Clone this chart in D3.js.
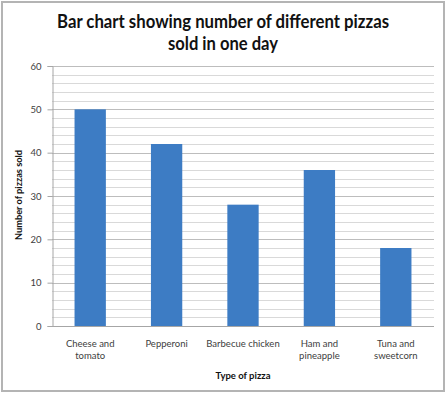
<!DOCTYPE html>
<html>
<head>
<meta charset="utf-8">
<script src="https://cdn.jsdelivr.net/npm/d3@7"></script>
<style>
  body { margin: 0; background: #fff; }
  text { font-family: Lato, "Open Sans", sans-serif; }
</style>
</head>
<body>
<div id="container"></div>
<script>
// DATA
const pizzas = ["Cheese and tomato", "Pepperoni", "Barbecue chicken", "Ham and pineapple", "Tuna and sweetcorn"];
const labelLines = [["Cheese and", "tomato"], ["Pepperoni"], ["Barbecue chicken"], ["Ham and", "pineapple"], ["Tuna and", "sweetcorn"]];
const sold = [50, 42, 28, 36, 18];
const yTicks = [0, 10, 20, 30, 40, 50, 60];

const width = 446, height = 393;
const plotLeft = 52, plotRight = 434, plotTop = 66, plotBottom = 326;

const svg = d3.select("#container").append("svg")
  .attr("width", width).attr("height", height);

// outer frame
svg.append("rect")
  .attr("x", 2).attr("y", 2).attr("width", width - 4).attr("height", height - 4)
  .attr("fill", "#fff").attr("stroke", "#b4b4b4").attr("stroke-width", 2);

// SCALES
const x = d3.scaleBand().domain(pizzas).range([plotLeft, plotRight]);
const y = d3.scaleLinear().domain([0, 60]).range([plotBottom, plotTop]);

// gridlines every 2
svg.append("g").selectAll("line")
  .data(d3.range(2, 61, 2))
  .join("line")
  .attr("x1", plotLeft).attr("x2", plotRight)
  .attr("y1", d => Math.round(y(d)) + 0.5).attr("y2", d => Math.round(y(d)) + 0.5)
  .attr("stroke", d => d % 10 === 0 ? "#bdbdbd" : "#d9d9d9")
  .attr("stroke-width", 1);

// y axis
const yAxis = svg.append("g")
  .attr("transform", `translate(${plotLeft + 0.5},0)`)
  .call(d3.axisLeft(y).tickValues(yTicks).tickSize(5).tickPadding(6));
yAxis.select(".domain").attr("stroke", "#a6a6a6");
yAxis.selectAll(".tick line").attr("stroke", "#a6a6a6");
yAxis.selectAll(".tick text").attr("fill", "#404040").attr("font-size", 9.5).attr("font-family", "Lato, sans-serif");

// x axis baseline
svg.append("line")
  .attr("x1", plotLeft).attr("x2", plotRight)
  .attr("y1", plotBottom + 0.5).attr("y2", plotBottom + 0.5)
  .attr("stroke", "#a6a6a6");

// BARS
const barW = x.bandwidth() * 0.41;
svg.append("g").selectAll("rect")
  .data(pizzas)
  .join("rect")
  .attr("x", d => x(d) + (x.bandwidth() - barW) / 2)
  .attr("width", barW)
  .attr("y", (d, i) => y(sold[i]))
  .attr("height", (d, i) => y(0) - y(sold[i]))
  .attr("fill", "#3d7cc4");

// x labels
const xl = svg.append("g").selectAll("text")
  .data(pizzas)
  .join("text")
  .attr("x", d => x(d) + x.bandwidth() / 2)
  .attr("y", 347)
  .attr("text-anchor", "middle")
  .attr("font-size", 9.5)
  .attr("fill", "#404040");
xl.selectAll("tspan")
  .data((d, i) => labelLines[i])
  .join("tspan")
  .attr("x", function() { return this.parentNode.getAttribute("x"); })
  .attr("dy", (d, i) => i === 0 ? 0 : 11.5)
  .text(d => d);

// axis titles
svg.append("text")
  .attr("x", (plotLeft + plotRight) / 2).attr("y", 379)
  .attr("text-anchor", "middle").attr("font-size", 9.5).attr("font-weight", "bold")
  .attr("fill", "#111")
  .text("Type of pizza");

svg.append("text")
  .attr("transform", `translate(22,${(plotTop + plotBottom) / 2 - 1}) rotate(-90)`)
  .attr("text-anchor", "middle").attr("font-size", 9.5).attr("font-weight", "bold")
  .attr("fill", "#111")
  .attr("textLength", 90).attr("lengthAdjust", "spacingAndGlyphs")
  .text("Number of pizzas sold");

// title
const title = svg.append("text")
  .attr("x", 223).attr("y", 28)
  .attr("text-anchor", "middle").attr("font-size", 19).attr("font-weight", "bold")
  .attr("fill", "#111");
title.append("tspan").attr("x", 223)
  .attr("textLength", 332).attr("lengthAdjust", "spacingAndGlyphs")
  .text("Bar chart showing number of different pizzas");
title.append("tspan").attr("x", 223).attr("dy", 22)
  .attr("textLength", 110).attr("lengthAdjust", "spacingAndGlyphs")
  .text("sold in one day");
</script>
</body>
</html>
